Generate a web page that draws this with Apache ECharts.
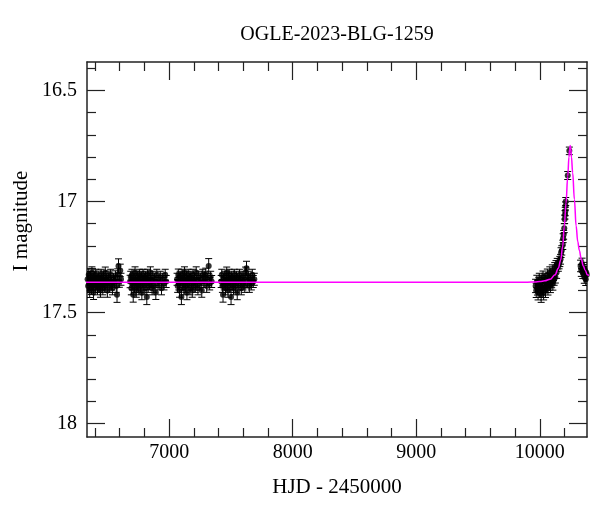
<!DOCTYPE html>
<html><head><meta charset="utf-8">
<script src="https://cdn.jsdelivr.net/npm/echarts@6/dist/echarts.min.js"></script>
<style>html,body{margin:0;padding:0;background:#fff}#c{width:600px;height:512px}</style>
</head><body><div id="c"></div>
<script>
const titleText = 'OGLE-2023-BLG-1259';
const xName = 'HJD - 2450000';
const yName = 'I magnitude';
const xMin = 6335, xMax = 10382;
const yMin = 16.372, yMax = 18.06;
const xMajorTicks = [7000, 8000, 9000, 10000];
const xMinorTicks = [6400, 6600, 6800, 7200, 7400, 7600, 7800, 8200, 8400, 8600, 8800, 9200, 9400, 9600, 9800, 10200];
const yMajorTicks = [16.5, 17, 17.5, 18];
const yMinorTicks = [16.4, 16.6, 16.7, 16.8, 16.9, 17.1, 17.2, 17.3, 17.4, 17.6, 17.7, 17.8, 17.9];

// Season 1
const s1Hjd = [6340,6344,6349,6353,6357,6362,6366,6370,6375,6379,6384,6388,6393,6397,6402,6406,6411,6416,6420,6425,6430,6434,6439,6444,6449,6454,6458,6463,6468,6473,6478,6483,6488,6494,6500,6506,6512,6519,6526,6533,6541,6549,6557,6565,6572,6578,6584,6590,6597,6604,6610];
const s1Mag = [17.35,17.38,17.33,17.37,17.40,17.34,17.36,17.39,17.32,17.37,17.35,17.41,17.34,17.36,17.38,17.33,17.37,17.35,17.39,17.36,17.34,17.38,17.36,17.40,17.33,17.35,17.37,17.39,17.34,17.36,17.38,17.32,17.37,17.35,17.40,17.36,17.34,17.38,17.33,17.37,17.39,17.35,17.36,17.34,17.38,17.42,17.33,17.29,17.36,17.31,17.35];
const s1Err = [0.027,0.030,0.026,0.028,0.032,0.025,0.027,0.029,0.026,0.028,0.027,0.031,0.026,0.028,0.029,0.025,0.027,0.028,0.030,0.026,0.027,0.029,0.026,0.031,0.025,0.027,0.028,0.030,0.026,0.027,0.029,0.025,0.028,0.027,0.031,0.026,0.027,0.029,0.025,0.028,0.030,0.027,0.026,0.028,0.029,0.034,0.027,0.032,0.026,0.028,0.027];
// Season 2
const s2Hjd = [6684,6689,6694,6699,6704,6709,6714,6719,6724,6729,6734,6739,6744,6749,6754,6759,6764,6769,6774,6779,6784,6789,6794,6799,6804,6809,6814,6819,6824,6830,6836,6842,6848,6855,6862,6869,6876,6884,6892,6900,6909,6918,6928,6938,6948,6958,6968,6976];
const s2Mag = [17.36,17.34,17.39,17.33,17.37,17.42,17.35,17.38,17.32,17.36,17.40,17.34,17.37,17.35,17.39,17.33,17.36,17.38,17.34,17.41,17.36,17.33,17.37,17.35,17.39,17.34,17.36,17.43,17.33,17.38,17.35,17.37,17.32,17.36,17.39,17.34,17.38,17.35,17.41,17.33,17.37,17.36,17.34,17.39,17.35,17.37,17.33,17.36];
const s2Err = [0.028,0.026,0.030,0.025,0.027,0.033,0.027,0.029,0.026,0.028,0.031,0.026,0.028,0.027,0.030,0.025,0.027,0.029,0.026,0.032,0.027,0.025,0.028,0.027,0.030,0.026,0.027,0.034,0.025,0.029,0.027,0.028,0.026,0.027,0.030,0.026,0.029,0.027,0.031,0.025,0.028,0.027,0.026,0.030,0.027,0.028,0.025,0.027];
// Season 3
const s3Hjd = [7064,7069,7074,7079,7084,7089,7094,7099,7104,7109,7114,7119,7124,7129,7134,7139,7144,7149,7154,7159,7164,7169,7175,7181,7187,7193,7199,7205,7212,7219,7226,7233,7240,7248,7256,7264,7272,7280,7288,7296,7304,7312,7320,7328,7336,7344];
const s3Mag = [17.35,17.38,17.33,17.37,17.40,17.34,17.36,17.43,17.33,17.37,17.35,17.39,17.32,17.36,17.38,17.34,17.41,17.36,17.33,17.37,17.35,17.39,17.34,17.36,17.40,17.33,17.37,17.35,17.38,17.32,17.36,17.39,17.34,17.37,17.35,17.40,17.33,17.36,17.34,17.33,17.38,17.35,17.29,17.37,17.34,17.36];
const s3Err = [0.027,0.029,0.026,0.028,0.031,0.026,0.027,0.034,0.025,0.028,0.027,0.030,0.026,0.027,0.029,0.026,0.032,0.027,0.025,0.028,0.027,0.030,0.026,0.027,0.031,0.025,0.028,0.027,0.029,0.026,0.027,0.030,0.026,0.028,0.027,0.031,0.025,0.027,0.026,0.030,0.029,0.027,0.033,0.028,0.026,0.027];
// Season 4
const s4Hjd = [7421,7426,7431,7436,7441,7446,7451,7456,7461,7466,7471,7476,7481,7486,7491,7496,7501,7506,7511,7516,7521,7527,7533,7539,7545,7551,7557,7563,7570,7577,7584,7591,7598,7605,7612,7619,7626,7633,7641,7649,7657,7665,7673,7681,7689];
const s4Mag = [17.36,17.33,17.38,17.42,17.35,17.37,17.34,17.39,17.36,17.32,17.37,17.40,17.35,17.33,17.38,17.36,17.43,17.34,17.37,17.35,17.39,17.33,17.36,17.38,17.34,17.41,17.35,17.37,17.33,17.36,17.39,17.34,17.37,17.35,17.38,17.32,17.30,17.36,17.34,17.38,17.35,17.37,17.33,17.36,17.35];
const s4Err = [0.027,0.025,0.029,0.033,0.027,0.028,0.026,0.030,0.027,0.025,0.028,0.031,0.027,0.025,0.029,0.027,0.034,0.026,0.028,0.027,0.030,0.025,0.027,0.029,0.026,0.032,0.027,0.028,0.025,0.027,0.030,0.026,0.028,0.027,0.029,0.025,0.031,0.027,0.026,0.029,0.027,0.028,0.025,0.027,0.027];
// Season 5 (event)
const s5Hjd = [9966,9971,9976,9981,9986,9991,9996,10001,10006,10011,10016,10021,10026,10031,10036,10041,10046,10051,10056,10061,10066,10071,10076,10081,10086,10091,10096,10101,10106,10111,10116,10121,10126,10131,10136,10141,
  10150,10156,10162,10168,10172,10178,10186,10189,10193,10198,10201,10204,10206,10208,10210,10226,10239,
  10330,10336,10342,10348,10354,10360,10366,10372,10376,10380];
const s5Mag = [17.38,17.40,17.36,17.39,17.41,17.37,17.35,17.40,17.38,17.42,17.36,17.39,17.34,17.41,17.37,17.35,17.40,17.36,17.38,17.33,17.39,17.35,17.37,17.32,17.38,17.34,17.36,17.31,17.37,17.33,17.35,17.30,17.34,17.29,17.32,17.28,
  17.29,17.28,17.27,17.26,17.23,17.22,17.195,17.165,17.15,17.12,17.08,17.06,17.045,17.02,17.00,16.883,16.772,
  17.29,17.31,17.28,17.32,17.30,17.34,17.31,17.35,17.32,17.33];
const s5Err = [0.030,0.032,0.028,0.031,0.033,0.029,0.027,0.032,0.030,0.034,0.028,0.031,0.027,0.033,0.029,0.027,0.032,0.028,0.030,0.026,0.031,0.027,0.029,0.026,0.030,0.027,0.028,0.025,0.029,0.026,0.027,0.025,0.027,0.024,0.026,0.024,
  0.024,0.023,0.023,0.022,0.022,0.021,0.021,0.020,0.020,0.020,0.019,0.019,0.019,0.018,0.018,0.018,0.017,
  0.026,0.027,0.025,0.027,0.026,0.028,0.026,0.028,0.027,0.027];

// Model curve
const modelHjd = [6300,9900,9960,10000,10040,10083,10123,10150,10169,10185,10198,10212,10226,10236,10241,10246,10251,10256,10266,10280,10294,10307,10320,10336,10352,10368,10385,10420];
const modelMag = [17.363,17.363,17.362,17.360,17.357,17.35,17.33,17.30,17.263,17.203,17.113,17.007,16.887,16.80,16.765,16.748,16.765,16.80,16.87,16.99,17.11,17.18,17.22,17.26,17.29,17.31,17.33,17.345];

const FONT = 'Liberation Serif';
const points = [];
[[s1Hjd,s1Mag,s1Err],[s2Hjd,s2Mag,s2Err],[s3Hjd,s3Mag,s3Err],[s4Hjd,s4Mag,s4Err],[s5Hjd,s5Mag,s5Err]].forEach(([h,m,e]) => {
  h.forEach((x,i) => points.push([x, m[i], e[i]]));
});
const model = modelHjd.map((x,i) => [x, modelMag[i]]);

const lineStyle = {color:'#222', width:1.5};
function labelRich() {
  return {s:{fontFamily:FONT, fontSize:20, color:'#000'}};
}
function xAx(pos, ticks, len, withLine, withLabel) {
  return {
    type:'value', position:pos, min:xMin, max:xMax, gridIndex:0,
    axisLine:{show:withLine, onZero:false, lineStyle},
    axisTick:{show:true, inside:true, length:len, customValues:ticks, lineStyle:{color:'#222', width:1.2}},
    axisLabel:{show:withLabel, customValues:ticks, formatter:v => '{s|' + v + '}', rich:labelRich(), fontFamily:FONT, fontSize:20, color:'#000', margin:6},
    splitLine:{show:false}
  };
}
function yAx(pos, ticks, len, withLine, withLabel) {
  return {
    type:'value', position:pos, min:yMin, max:yMax, inverse:true, gridIndex:0,
    axisLine:{show:withLine, onZero:false, lineStyle},
    axisTick:{show:true, inside:true, length:len, customValues:ticks, lineStyle:{color:'#222', width:1.2}},
    axisLabel:{show:withLabel, customValues:ticks, formatter:v => '{s|' + v + '}', rich:labelRich(), fontFamily:FONT, fontSize:20, color:'#000', margin:10},
    splitLine:{show:false}
  };
}

const chart = echarts.init(document.getElementById('c'), null, {renderer:'canvas'});
chart.setOption({
  animation:false,
  backgroundColor:'#fff',
  textStyle:{fontFamily:FONT},
  grid:{left:87, right:13, top:62, bottom:75},
  graphic:[
    {type:'text', x:337, y:35, style:{text:titleText, font:'20px "Liberation Serif"', fill:'#000', textAlign:'center', textVerticalAlign:'middle'}},
    {type:'text', x:337, y:487, style:{text:xName, font:'21px "Liberation Serif"', fill:'#000', textAlign:'center', textVerticalAlign:'middle'}},
    {type:'text', x:21, y:221, rotation:Math.PI/2, style:{text:yName, font:'21px "Liberation Serif"', fill:'#000', textAlign:'center', textVerticalAlign:'middle'}}
  ],
  xAxis:[
    xAx('bottom', xMajorTicks, 18, true, true),
    xAx('bottom', xMinorTicks, 9, false, false),
    xAx('top', xMajorTicks, 18, true, false),
    xAx('top', xMinorTicks, 9, false, false)
  ],
  yAxis:[
    yAx('left', yMajorTicks, 18, true, true),
    yAx('left', yMinorTicks, 9, false, false),
    yAx('right', yMajorTicks, 18, true, false),
    yAx('right', yMinorTicks, 9, false, false)
  ],
  series:[
    {
      type:'custom', xAxisIndex:0, yAxisIndex:0, data:points, clip:true, z:2,
      encode:{x:0, y:1},
      renderItem:(params, api) => {
        const x = api.value(0), m = api.value(1), e = api.value(2);
        const a = api.coord([x, m - e]);
        const b = api.coord([x, m + e]);
        const w = 3.5;
        const st = {stroke:'#000', lineWidth:1};
        return {type:'group', children:[
          {type:'line', shape:{x1:a[0], y1:a[1], x2:b[0], y2:b[1]}, style:st},
          {type:'line', shape:{x1:a[0]-w, y1:a[1], x2:a[0]+w, y2:a[1]}, style:st},
          {type:'line', shape:{x1:b[0]-w, y1:b[1], x2:b[0]+w, y2:b[1]}, style:st}
        ]};
      }
    },
    {
      type:'scatter', xAxisIndex:0, yAxisIndex:0, data:points.map(p => [p[0], p[1]]),
      symbol:'circle', symbolSize:6, itemStyle:{color:'#000'}, z:3, clip:true
    },
    {
      type:'line', xAxisIndex:0, yAxisIndex:0, data:model, showSymbol:false, symbol:'none',
      smooth:0.4, smoothMonotone:'x', clip:true, z:4,
      lineStyle:{color:'#ff00ff', width:1.5}
    }
  ]
});
</script>
</body></html>
